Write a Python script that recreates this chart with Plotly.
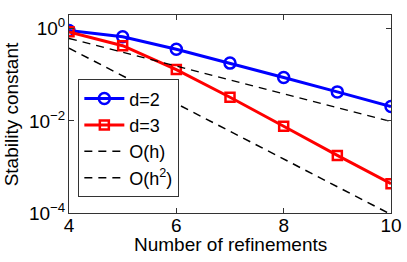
import plotly.graph_objects as go

refinements = [4, 5, 6, 7, 8, 9, 10]
d2 = [0.92, 0.67, 0.36, 0.18, 0.0875, 0.0427, 0.0205]
d3 = [0.86, 0.43, 0.13, 0.0327, 0.00766, 0.00178, 0.000434]
ref_x = [4, 10]
oh = [0.62, 0.0097]
oh2 = [0.38, 0.000093]

ytick_vals = [1e-4, 1e-2, 1]
ytick_text = ["10<sup>−4</sup>", "10<sup>−2</sup>", "10<sup>0</sup>"]
xtick_vals = [4, 6, 8, 10]

fig = go.Figure()
fig.add_trace(go.Scatter(x=refinements, y=d2, name="d=2", mode="lines+markers",
                         line=dict(color="#0000ff", width=3),
                         marker=dict(symbol="circle-open", size=11, color="#0000ff", line=dict(width=2.5))))
fig.add_trace(go.Scatter(x=refinements, y=d3, name="d=3", mode="lines+markers",
                         line=dict(color="#ff0000", width=3),
                         marker=dict(symbol="square-open", size=9, color="#ff0000", line=dict(width=2.5))))
fig.add_trace(go.Scatter(x=ref_x, y=oh, name="O(h)", mode="lines",
                         line=dict(color="black", width=1.5, dash="8px,6px")))
fig.add_trace(go.Scatter(x=ref_x, y=oh2, name="O(h<sup>2</sup>)", mode="lines",
                         line=dict(color="black", width=1.5, dash="8px,6px")))

axis_common = dict(showline=True, linecolor="#333333", linewidth=1, mirror="ticks",
                   ticks="inside", ticklen=5, tickcolor="#333333", showgrid=False,
                   zeroline=False, automargin=False, tickfont=dict(size=19, color="black"))

fig.update_xaxes(range=[4, 10], tickvals=xtick_vals, ticklabelstandoff=-5, **axis_common)
fig.update_yaxes(type="log", range=[-4, 0.3], tickvals=ytick_vals, ticktext=ytick_text,
                 ticklabelstandoff=-1, **axis_common)

fig.add_annotation(text="Number of refinements", xref="paper", yref="paper",
                   x=0.5, y=-0.16, xanchor="center", yanchor="middle", showarrow=False,
                   font=dict(size=19, color="black"))
fig.add_annotation(text="Stability constant", xref="paper", yref="paper",
                   x=-0.179, y=0.5, xanchor="center", yanchor="middle", showarrow=False,
                   textangle=-90, font=dict(size=19, color="black"))

fig.update_layout(
    width=407, height=262,
    margin=dict(l=69, r=16, t=15, b=49, autoexpand=False),
    paper_bgcolor="white", plot_bgcolor="white",
    font=dict(family="Liberation Sans, Arial, sans-serif", color="black"),
    legend=dict(x=0.029, y=0.675, xanchor="left", yanchor="top",
                bgcolor="white", bordercolor="#333333", borderwidth=1,
                font=dict(size=18, color="black"), tracegroupgap=0, itemwidth=40),
    showlegend=True,
)

fig.write_html("out.html", config={"displayModeBar": False},
               post_script="document.body.style.margin='0';document.body.style.overflow='hidden';")
